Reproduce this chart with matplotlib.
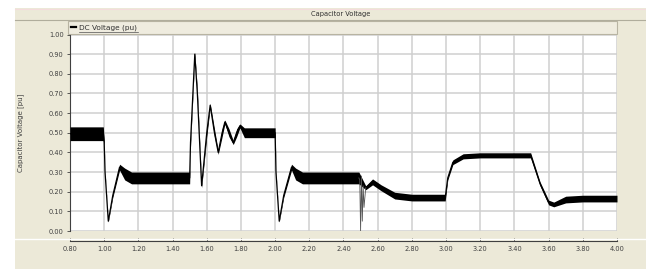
import numpy as np
import matplotlib
matplotlib.use('Agg')
import matplotlib.pyplot as plt
from matplotlib.patches import Rectangle
from matplotlib.lines import Line2D

# DC capacitor voltage (pu): time, centre, half-width of ripple band
t = [0.80, 0.995, 1.00, 1.005, 1.024, 1.05, 1.09, 1.12, 1.16, 1.50,
     1.505, 1.53, 1.545, 1.57, 1.60, 1.62, 1.645, 1.667, 1.69, 1.706,
     1.73, 1.755, 1.775, 1.794, 1.82, 2.00, 2.005, 2.024, 2.05, 2.096,
     2.12, 2.16, 2.49, 2.53, 2.57, 2.62, 2.70, 2.80, 2.995, 3.01,
     3.04, 3.10, 3.20, 3.495, 3.55, 3.60, 3.63, 3.70, 3.80, 4.00]
v = [0.495, 0.495, 0.45, 0.30, 0.05, 0.18, 0.325, 0.29, 0.27, 0.27,
     0.45, 0.90, 0.70, 0.23, 0.50, 0.64, 0.50, 0.40, 0.50, 0.555,
     0.50, 0.45, 0.50, 0.535, 0.50, 0.50, 0.30, 0.05, 0.18, 0.325,
     0.29, 0.27, 0.27, 0.22, 0.25, 0.22, 0.18, 0.17, 0.17, 0.27,
     0.35, 0.38, 0.385, 0.385, 0.24, 0.145, 0.135, 0.16, 0.165, 0.165]
w = [0.035, 0.035, 0.01, 0.005, 0.005, 0.01, 0.015, 0.03, 0.03, 0.03,
     0.02, 0.01, 0.02, 0.01, 0.02, 0.01, 0.02, 0.01, 0.02, 0.01,
     0.02, 0.01, 0.02, 0.01, 0.025, 0.025, 0.005, 0.005, 0.01, 0.015,
     0.03, 0.03, 0.03, 0.01, 0.015, 0.015, 0.017, 0.017, 0.017, 0.01,
     0.012, 0.013, 0.013, 0.013, 0.01, 0.012, 0.012, 0.017, 0.017, 0.017]

# fault transient around t = 2.5 s
t_tr = [2.49, 2.495, 2.50, 2.505, 2.51, 2.515, 2.52, 2.53]
v_tr = [0.27, 0.26, 0.00, 0.28, 0.05, 0.23, 0.12, 0.22]

x_ticks = np.arange(0.8, 4.001, 0.2)
y_ticks = np.arange(0.0, 1.001, 0.1)

W, H = 646, 269
beige = '#ECE9D8'
fig = plt.figure(figsize=(W / 100, H / 100), dpi=100, facecolor='white')

def fx(px):
    return px / W

def fy(py):
    return 1 - py / H

# panel background, title bar, legend bar
fig.patches.append(Rectangle((fx(15), 0), 1 - fx(15), fy(8), transform=fig.transFigure,
                             facecolor=beige, edgecolor='none', zorder=-10))
fig.lines.append(Line2D([fx(15), 1], [fy(8.5), fy(8.5)], transform=fig.transFigure,
                        color='#f4dcdc', lw=0.8))
fig.lines.append(Line2D([fx(15), 1], [fy(20), fy(20)], transform=fig.transFigure,
                        color='#b0ad9c', lw=0.8))
fig.lines.append(Line2D([fx(15), 1], [fy(239), fy(239)], transform=fig.transFigure,
                        color='white', lw=1.0))
fig.patches.append(Rectangle((fx(68), fy(34)), fx(617 - 68), (34 - 21) / H,
                             transform=fig.transFigure, facecolor='#EFECDF',
                             edgecolor='#b8b4a2', lw=0.8, zorder=-5))
fig.text(fx(341), fy(14), 'Capacitor Voltage', fontsize=4.8, color='#303030',
         ha='center', va='center')

# legend entry
fig.lines.append(Line2D([fx(71), fx(76)], [fy(27.5), fy(27.5)], transform=fig.transFigure,
                        color='black', lw=1.6))
fig.text(fx(79), fy(27.5), 'DC Voltage (pu)', fontsize=5.3, color='#303030',
         ha='left', va='center')
fig.lines.append(Line2D([fx(79), fx(138)], [fy(31.5), fy(31.5)], transform=fig.transFigure,
                        color='#505050', lw=0.5))

ax = fig.add_axes([fx(70), fy(231), fx(617 - 70), (231 - 34.5) / H])
ax.set_facecolor('white')

lo = np.array(v) - np.array(w)
hi = np.array(v) + np.array(w)
ax.fill_between(t, lo, hi, color='black', lw=0, zorder=3)
ax.plot(t, v, color='black', lw=0.9, zorder=3)
ax.plot(t_tr, v_tr, color='#555555', lw=0.6, zorder=3)

ax.set_xlim(0.8, 4.0)
ax.set_ylim(0.0, 1.0)
ax.set_xticks(x_ticks)
ax.set_yticks(y_ticks)
ax.set_xticklabels([f'{x:.2f}' for x in x_ticks])
ax.set_yticklabels([f'{y:.2f}' for y in y_ticks])
ax.grid(True, color='#cfcfcf', lw=1.1)
ax.set_axisbelow(True)

for s in ['top', 'right']:
    ax.spines[s].set_visible(False)
ax.spines['left'].set_color('#404040')
ax.spines['left'].set_linewidth(0.8)
ax.spines['bottom'].set_position(('outward', 7.5))
ax.spines['bottom'].set_color('#404040')
ax.spines['bottom'].set_linewidth(0.8)

ax.tick_params(axis='y', direction='out', length=2.5, width=0.6, colors='#404040',
               labelsize=4.8, pad=2)
ax.tick_params(axis='x', direction='in', length=2.5, width=0.6, colors='#404040',
               labelsize=4.8, pad=3)

ax.set_ylabel('Capacitor Voltage [pu]', fontsize=5, color='#404040', labelpad=18)

fig.savefig('out.png', dpi=100, facecolor=fig.get_facecolor())
